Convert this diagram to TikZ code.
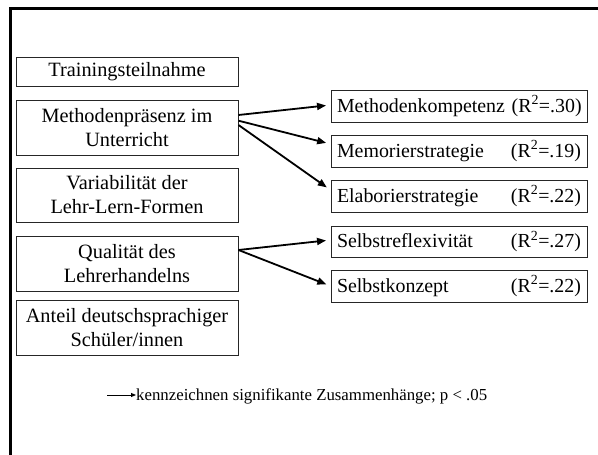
\documentclass[tikz,border=0pt]{standalone}
\usepackage{fontspec}
\setmainfont{Liberation Serif}
\usetikzlibrary{arrows.meta}
\tikzset{
  lbox/.style={draw=black!85, line width=1pt, minimum width=222pt, align=center,
    inner sep=0pt, font=\fontsize{20.3}{24}\selectfont},
  rbox/.style={draw=black!85, line width=1pt, minimum width=256pt, minimum height=32pt,
    text width=244pt, inner xsep=6pt, inner ysep=0pt, align=left,
    font=\fontsize{19.9}{24}\selectfont},
  conn/.style={line width=1.8pt, -{Triangle[length=9pt,width=7pt]}, shorten >=4.5pt},
  frame/.style={line width=3pt},
}
\begin{document}
\begin{tikzpicture}[x=1pt,y=-1pt]
\useasboundingbox (0,0) rectangle (598,455);
\fill[white] (0,0) rectangle (598,455);
% frame
\coordinate (fb) at (10,456);
\coordinate (fc) at (10,8.5);
\coordinate (fr) at (599,8.5);
\draw[frame] (fb) -- (fc) -- (fr);
% left boxes
\node[lbox, minimum height=29pt] (tt) at (127,71.5) {Trainingsteilnahme};
\node[lbox, minimum height=55pt] (mp) at (127,127.5) {Methodenpräsenz im\\Unterricht};
\node[lbox, minimum height=54pt] (vl) at (127,195) {Variabilität der\\Lehr-Lern-Formen};
\node[lbox, minimum height=55pt] (ql) at (127,263.5) {Qualität des\\Lehrerhandelns};
\node[lbox, minimum height=55pt] (ad) at (127,327.5) {Anteil deutschsprachiger\\Schüler/innen};
% right boxes
\node[rbox] (mk) at (459,106) {Methodenkompetenz~(R\textsuperscript{2}=.30)};
\node[rbox] (ms) at (459,151) {Memorierstrategie\hfill(R\textsuperscript{2}=.19)};
\node[rbox] (es) at (459,196) {Elaborierstrategie\hfill(R\textsuperscript{2}=.22)};
\node[rbox, minimum height=31pt] (sr) at (459,241.5) {Selbstreflexivität\hfill(R\textsuperscript{2}=.27)};
\node[rbox] (sk) at (459,286) {Selbstkonzept\hfill(R\textsuperscript{2}=.22)};
% connectors
\draw[conn] ([yshift=12.5pt]mp.east) -- ([yshift=1pt]mk.west);
\draw[conn] ([yshift=6.8pt]mp.east) -- ([yshift=7pt]ms.west);
\draw[conn] ([yshift=2.5pt]mp.east) -- ([yshift=6pt]es.west);
\draw[conn] ([yshift=13.5pt]ql.east) -- ([yshift=1.5pt]sr.west);
\draw[conn] ([yshift=13.5pt]ql.east) -- (sk.west);
% legend
\coordinate (la) at (107,395);
\node[anchor=west, inner sep=0pt, font=\fontsize{16.8}{19}\selectfont] (lt) at (136,396)
  {kennzeichnen signifikante Zusammenhänge; p < .05};
\draw[line width=1pt, -{Triangle[length=5pt,width=4pt]}] (la) -- (la -| lt.west);
\end{tikzpicture}
\end{document}
